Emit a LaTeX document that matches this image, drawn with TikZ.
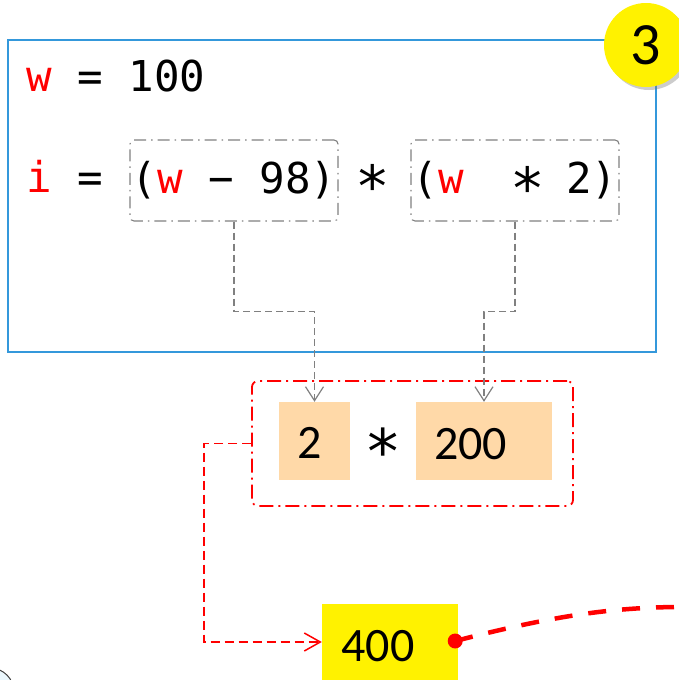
\documentclass[tikz,border=0pt]{standalone}
\usepackage{fontspec}
\setmonofont{DejaVu Sans Mono}
\newfontfamily\numfont{Carlito}
\usepackage{tikz}
\usetikzlibrary{arrows.meta,shadows}
\definecolor{frameblue}{RGB}{52,152,219}
\definecolor{peach}{RGB}{255,217,168}
\newcommand{\bigast}{\makebox[0.602em]{\raisebox{-0.08em}{\scalebox{1.35}{∗}}}}
\begin{document}
\begin{tikzpicture}[x=1pt,y=-1pt,
  code/.style={font=\ttfamily\fontsize{42.5}{42}\selectfont,inner sep=0pt},
  codebox/.style={code,draw=gray,line width=1.1pt,dash pattern=on 12pt off 5pt on 1.5pt off 5pt,rounded corners=4pt,minimum width=208pt,minimum height=81pt},
  num/.style={font=\numfont\fontsize{48}{48}\selectfont,inner sep=0pt},
  numbox/.style={fill=peach,minimum height=78pt,inner sep=0pt},
  grayconn/.style={draw=gray,line width=1.2pt,dash pattern=on 7pt off 4pt,-{Straight Barb[length=14pt,width=18pt]}},
  redconn/.style={draw=red,line width=1.5pt,dash pattern=on 9pt off 5pt,-{Straight Barb[length=16pt,width=18pt]}}]
\useasboundingbox (0,0) rectangle (679,680);
\draw[draw=black!75,fill=cyan!8,line width=1pt] (-10,692) circle (24pt);
\node[draw=frameblue,line width=1.5pt,minimum width=648pt,minimum height=312pt] (frame) at (332,196) {};
\node[code,anchor=base west] (wline) at (26,91) {\textcolor{red}{w} = 100};
\node[code,anchor=base west] (iline) at (26,192) {\textcolor{red}{i} =};
\node[codebox] (left) at (234,180.5) {(\textcolor{red}{w} − 98)};
\node[code,anchor=base] (times) at (373,192) {\bigast};
\node[codebox] (right) at (515,180.5) {(\textcolor{red}{w}~~\bigast~2)};
\node[draw=red,line width=1.8pt,dash pattern=on 14pt off 5pt on 2pt off 5pt,rounded corners=6pt,minimum width=321pt,minimum height=125pt] (calc) at (412.5,443.5) {};
\node[numbox,minimum width=71pt] (two) at (314.5,441) {};
\node[numbox,minimum width=136pt] (twohundred) at (484,441) {};
\node[num,anchor=base] (twoval) at (310,458) {2};
\node[code,anchor=base,font=\ttfamily\fontsize{46}{46}\selectfont] (mult) at (383,458) {\bigast};
\node[num,anchor=base west] (twohundredval) at (434,459) {200};
\node[fill=yellow,minimum width=136pt,minimum height=76pt] (result) at (390,642) {};
\node[num,anchor=base] (resultval) at (378,661) {400};
\draw[grayconn] (left.south) -- ++(0,90) -| (two.north);
\draw[grayconn] (right.south) -- ++(0,90) -| (twohundred.north);
\draw[redconn] (calc.west) -- ++(-47,0) |- (result.west);
\fill[red] (result.east) ++(-3,-1) circle (7.5pt);
\draw[red,line width=4.5pt,dash pattern=on 18pt off 16pt] (result.east) ++(-3,-1) .. controls (560,614) and (620,606) .. (700,607);
\node[circle,fill=yellow,minimum size=84pt,inner sep=0pt,drop shadow={shadow xshift=3pt,shadow yshift=-3pt,opacity=0.4},font=\numfont\fontsize{60}{60}\selectfont] (badge) at (646,45) {3};
\end{tikzpicture}
\end{document}
